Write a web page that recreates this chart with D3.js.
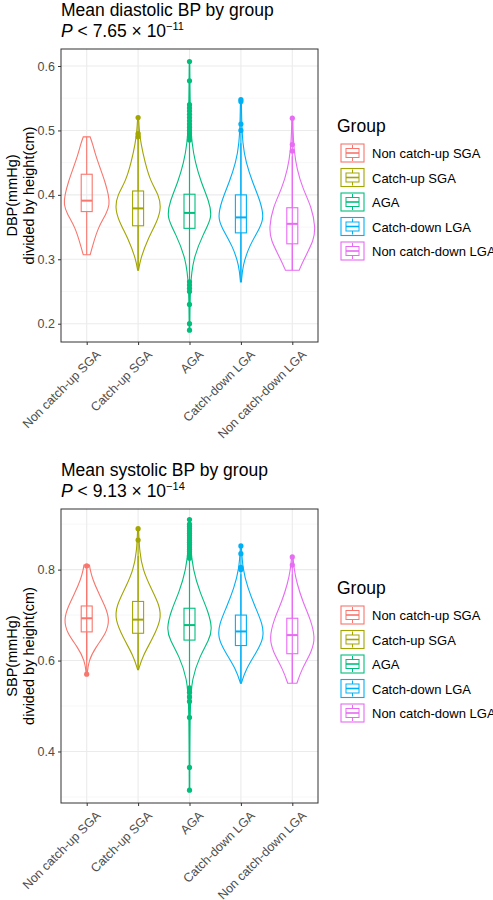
<!DOCTYPE html>
<html><head><meta charset="utf-8">
<script src="https://cdn.jsdelivr.net/npm/d3@7"></script>
<style>body{margin:0;background:#fff;font-family:"Liberation Sans",Arial,sans-serif}</style>
</head><body><div id="vis"></div>
<script>
const GROUPS = ["Non catch-up SGA", "Catch-up SGA", "AGA", "Catch-down LGA", "Non catch-down LGA"];
const COLORS = ["#F8766D", "#A3A500", "#00BF7D", "#00B0F6", "#E76BF3"];

// box stats: [whiskerLo, q1, median, q3, whiskerHi]
const DBP_BOX = [[0.307, 0.374, 0.391, 0.432, 0.49], [0.283, 0.352, 0.379, 0.406, 0.487],
  [0.27, 0.348, 0.372, 0.401, 0.48], [0.265, 0.341, 0.365, 0.40, 0.48], [0.283, 0.324, 0.355, 0.38, 0.46]];
const DBP_OUT = [[], [0.49, 0.495, 0.52],
  [0.485, 0.49, 0.495, 0.50, 0.505, 0.51, 0.515, 0.52, 0.525, 0.53, 0.535, 0.54, 0.577, 0.607, 0.265, 0.26, 0.255, 0.25, 0.23, 0.2, 0.19],
  [0.50, 0.51, 0.545, 0.548], [0.468, 0.478, 0.519]];
// violin profiles: [value, relative half-width]
const DBP_VIO = [
  [[0.307, 0.15], [0.32, 0.25], [0.35, 0.5], [0.37, 0.85], [0.385, 1], [0.40, 0.95], [0.42, 0.8], [0.44, 0.6], [0.46, 0.4], [0.48, 0.25], [0.49, 0.15]],
  [[0.283, 0.02], [0.30, 0.1], [0.33, 0.4], [0.36, 0.85], [0.38, 1], [0.40, 0.9], [0.42, 0.55], [0.45, 0.3], [0.48, 0.12], [0.50, 0.05], [0.52, 0.02]],
  [[0.19, 0.01], [0.26, 0.03], [0.30, 0.15], [0.34, 0.6], [0.365, 1], [0.39, 0.85], [0.42, 0.5], [0.45, 0.25], [0.48, 0.1], [0.52, 0.03], [0.607, 0.01]],
  [[0.265, 0.02], [0.29, 0.08], [0.32, 0.35], [0.35, 0.85], [0.365, 1], [0.39, 0.85], [0.42, 0.5], [0.45, 0.22], [0.48, 0.07], [0.52, 0.03], [0.548, 0.02]],
  [[0.283, 0.3], [0.30, 0.5], [0.33, 0.95], [0.35, 1], [0.38, 0.85], [0.41, 0.45], [0.44, 0.2], [0.47, 0.07], [0.50, 0.03], [0.519, 0.02]]
];

const SBP_BOX = [[0.60, 0.663, 0.693, 0.72, 0.80], [0.58, 0.66, 0.69, 0.73, 0.83],
  [0.555, 0.645, 0.678, 0.715, 0.82], [0.55, 0.633, 0.664, 0.70, 0.79], [0.55, 0.615, 0.656, 0.693, 0.79]];
const SBP_OUT = [[0.57, 0.808], [0.865, 0.89],
  [0.825, 0.83, 0.835, 0.84, 0.845, 0.85, 0.855, 0.86, 0.865, 0.87, 0.875, 0.88, 0.885, 0.89, 0.895, 0.90, 0.91, 0.54, 0.53, 0.52, 0.51, 0.475, 0.365, 0.315],
  [0.80, 0.805, 0.835, 0.852], [0.81, 0.828]];
const SBP_VIO = [
  [[0.57, 0.02], [0.60, 0.08], [0.63, 0.4], [0.66, 0.85], [0.69, 1], [0.72, 0.8], [0.75, 0.5], [0.78, 0.25], [0.80, 0.15], [0.81, 0.12]],
  [[0.58, 0.02], [0.61, 0.2], [0.65, 0.65], [0.69, 1], [0.72, 0.95], [0.76, 0.55], [0.80, 0.2], [0.84, 0.06], [0.89, 0.02]],
  [[0.315, 0.01], [0.50, 0.02], [0.56, 0.1], [0.61, 0.45], [0.645, 0.85], [0.67, 1], [0.71, 0.8], [0.75, 0.45], [0.80, 0.15], [0.85, 0.04], [0.91, 0.02]],
  [[0.55, 0.02], [0.58, 0.2], [0.62, 0.7], [0.65, 1], [0.68, 0.95], [0.72, 0.6], [0.76, 0.3], [0.80, 0.08], [0.852, 0.02]],
  [[0.55, 0.2], [0.58, 0.4], [0.62, 0.85], [0.65, 1], [0.69, 0.8], [0.73, 0.45], [0.77, 0.2], [0.80, 0.08], [0.828, 0.03]]
];

const W = 493, H = 900;
const svg = d3.select("#vis").append("svg").attr("width", W).attr("height", H);

function panel(cfg) {
  const g = svg.append("g");
  const L = 61, R = 318;
  const X = d3.scalePoint().domain(GROUPS).range([L, R]).padding(0.5);
  const Y = d3.scaleLinear().domain(cfg.domain).range([cfg.bottom, cfg.top]);

  g.append("text").attr("x", L).attr("y", cfg.top - 33).attr("font-size", 17.5).text(cfg.title);
  const p = g.append("text").attr("x", L).attr("y", cfg.top - 12).attr("font-size", 17.5);
  p.append("tspan").attr("font-style", "italic").text("P");
  p.append("tspan").text(" < " + cfg.p + " × 10");
  p.append("tspan").attr("font-size", 11).attr("dy", -7).text(cfg.exp);

  // grid
  g.selectAll(".gmin").data(cfg.minor).enter().append("line")
    .attr("x1", L).attr("x2", R).attr("y1", d => Y(d)).attr("y2", d => Y(d))
    .attr("stroke", "#f2f2f2").attr("stroke-width", 0.6);
  g.selectAll(".gmaj").data(cfg.ticks).enter().append("line")
    .attr("x1", L).attr("x2", R).attr("y1", d => Y(d)).attr("y2", d => Y(d))
    .attr("stroke", "#ebebeb").attr("stroke-width", 1.1);
  g.selectAll(".gx").data(GROUPS).enter().append("line")
    .attr("x1", d => X(d)).attr("x2", d => X(d)).attr("y1", cfg.top).attr("y2", cfg.bottom)
    .attr("stroke", "#ebebeb").attr("stroke-width", 1.1);

  const area = d3.area().curve(d3.curveBasis).y(d => Y(d[0]));
  GROUPS.forEach((grp, i) => {
    const cx = X(grp), col = COLORS[i], hw = 23;
    const prof = cfg.vio[i];
    g.append("path").datum(prof)
      .attr("d", area.x0(d => cx - d[1] * hw).x1(d => cx + d[1] * hw))
      .attr("fill", "none").attr("stroke", col).attr("stroke-width", 1.1);
    const b = cfg.box[i], bw = 5.5;
    g.append("line").attr("x1", cx).attr("x2", cx).attr("y1", Y(b[0])).attr("y2", Y(b[1])).attr("stroke", col).attr("stroke-width", 1.1);
    g.append("line").attr("x1", cx).attr("x2", cx).attr("y1", Y(b[3])).attr("y2", Y(b[4])).attr("stroke", col).attr("stroke-width", 1.1);
    g.append("rect").attr("x", cx - bw).attr("width", bw * 2).attr("y", Y(b[3])).attr("height", Y(b[1]) - Y(b[3]))
      .attr("fill", "none").attr("stroke", col).attr("stroke-width", 1.1);
    g.append("line").attr("x1", cx - bw).attr("x2", cx + bw).attr("y1", Y(b[2])).attr("y2", Y(b[2])).attr("stroke", col).attr("stroke-width", 2);
    const out = cfg.out[i];
    if (out.length) {
      const ext = d3.extent(out.concat(b));
      g.append("line").attr("x1", cx).attr("x2", cx).attr("y1", Y(ext[0])).attr("y2", Y(ext[1])).attr("stroke", col).attr("stroke-width", 1.1);
    }
    g.selectAll(null).data(out).enter().append("circle")
      .attr("cx", cx).attr("cy", d => Y(d)).attr("r", 2.6).attr("fill", col);
  });

  g.append("rect").attr("x", L).attr("y", cfg.top).attr("width", R - L).attr("height", cfg.bottom - cfg.top)
    .attr("fill", "none").attr("stroke", "#333").attr("stroke-width", 1);

  const ya = g.append("g").attr("transform", `translate(${L},0)`)
    .call(d3.axisLeft(Y).tickValues(cfg.ticks).tickFormat(d3.format(".1f")).tickSize(3).tickPadding(3));
  ya.select(".domain").remove();
  ya.selectAll("text").attr("font-size", 12.5).attr("fill", "#4d4d4d").attr("font-family", "Liberation Sans, Arial");
  ya.selectAll("line").attr("stroke", "#333");

  const xa = g.append("g").attr("transform", `translate(0,${cfg.bottom})`)
    .call(d3.axisBottom(X).tickSize(3).tickPadding(4));
  xa.select(".domain").remove();
  xa.selectAll("line").attr("stroke", "#333");
  xa.selectAll("text").attr("font-size", 12.5).attr("fill", "#4d4d4d").attr("font-family", "Liberation Sans, Arial")
    .attr("text-anchor", "end").attr("transform", "translate(4,3) rotate(-45)").attr("dy", "0.6em");

  const yl = g.append("text").attr("transform", `translate(17,${(cfg.top + cfg.bottom) / 2}) rotate(-90)`)
    .attr("text-anchor", "middle").attr("font-size", 14.5);
  yl.append("tspan").attr("x", 0).attr("dy", 0).text(cfg.ylab);
  yl.append("tspan").attr("x", 0).attr("dy", 17).text("divided by height(cm)");

  // legend
  const lg = g.append("g").attr("transform", `translate(337,${cfg.legendY})`);
  lg.append("text").attr("x", 0).attr("y", 0).attr("font-size", 17.5).text("Group");
  GROUPS.forEach((grp, i) => {
    const ky = 12 + i * 24.5, col = COLORS[i];
    const k = lg.append("g").attr("transform", `translate(4,${ky})`);
    k.append("rect").attr("width", 23).attr("height", 18).attr("fill", "#fff").attr("stroke", col).attr("stroke-width", 1.1);
    k.append("rect").attr("x", 5).attr("y", 4.5).attr("width", 13).attr("height", 9).attr("fill", "none").attr("stroke", col);
    k.append("line").attr("x1", 5).attr("x2", 18).attr("y1", 9).attr("y2", 9).attr("stroke", col).attr("stroke-width", 1.6);
    k.append("line").attr("x1", 11.5).attr("x2", 11.5).attr("y1", 1).attr("y2", 4.5).attr("stroke", col);
    k.append("line").attr("x1", 11.5).attr("x2", 11.5).attr("y1", 13.5).attr("y2", 17).attr("stroke", col);
    lg.append("text").attr("x", 35).attr("y", ky + 14).attr("font-size", 13).text(grp);
  });
}

panel({ title: "Mean diastolic BP by group", p: "7.65", exp: "−11", ylab: "DBP(mmHg)",
  top: 49, bottom: 342, domain: [0.1716, 0.6264], ticks: [0.2, 0.3, 0.4, 0.5, 0.6], minor: [0.25, 0.35, 0.45, 0.55],
  box: DBP_BOX, out: DBP_OUT, vio: DBP_VIO, legendY: 132 });
panel({ title: "Mean systolic BP by group", p: "9.13", exp: "−14", ylab: "SBP(mmHg)",
  top: 509, bottom: 803, domain: [0.2867, 0.9333], ticks: [0.4, 0.6, 0.8], minor: [0.3, 0.5, 0.7, 0.9],
  box: SBP_BOX, out: SBP_OUT, vio: SBP_VIO, legendY: 594 });
</script></body></html>
